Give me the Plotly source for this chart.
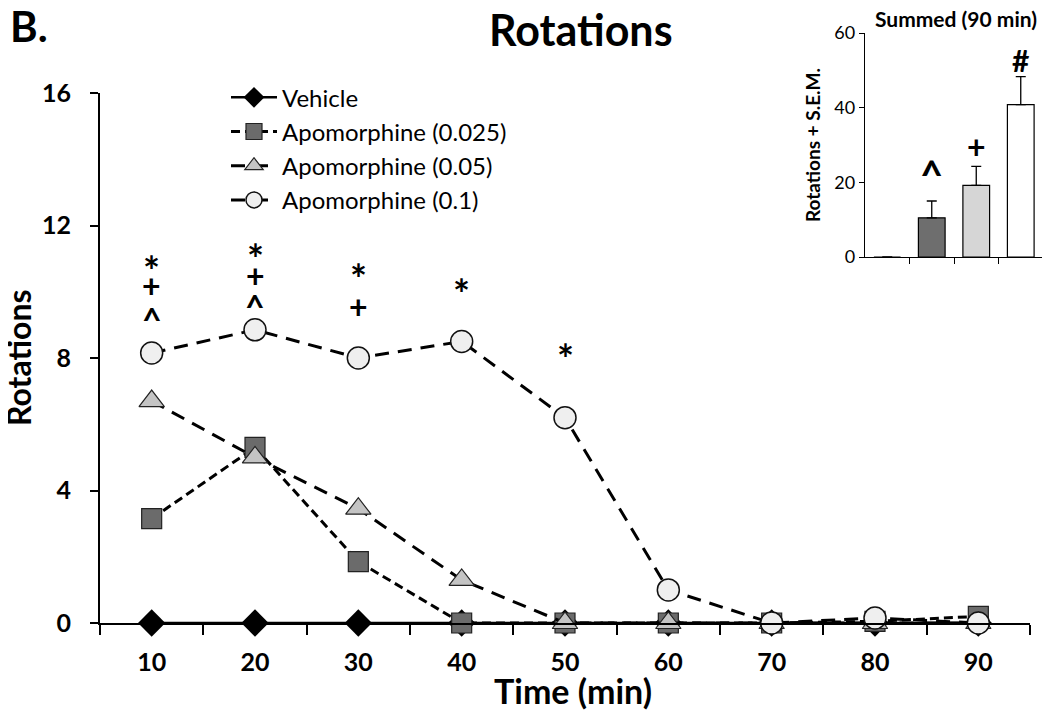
import plotly.graph_objects as go

time_min = [10, 20, 30, 40, 50, 60, 70, 80, 90]
vehicle = [0, 0, 0, 0, 0, 0, 0, 0, 0]
apo_0025 = [3.15, 5.3, 1.85, 0, 0, 0, 0, 0.05, 0.2]
apo_005 = [6.7, 5.0, 3.45, 1.3, 0, 0, 0, 0, 0]
apo_01 = [8.15, 8.85, 8.0, 8.5, 6.2, 1.0, 0, 0.15, 0]
y_ticks = [0, 4, 8, 12, 16]

# significance markers: (time, y-position in rotations, symbol)
sig_x = [10, 10, 10, 20, 20, 20, 30, 30, 40, 50]
sig_y = [10.9, 10.2, 9.4, 11.25, 10.5, 9.8, 10.65, 9.55, 10.2, 8.25]
sig_txt = ["*", "+", "^", "*", "+", "^", "*", "+", "*", "*"]

inset_groups = ["Vehicle", "Apo 0.025", "Apo 0.05", "Apo 0.1"]
inset_vals = [0, 10.5, 19.2, 40.8]
inset_sem = [0, 4.5, 5.1, 7.5]
inset_sig = ["", "^", "+", "#"]
inset_sig_y = [0, 24.0, 29.5, 53.3]

FONT = "Lato"
SYM_SIZE = {"*": 40, "+": 32, "^": 34, "#": 30}
SYM_SHIFT = {"*": -9, "+": 0, "^": -8, "#": -2}

# page geometry (browser body margin offsets the figure by 8px)
OFF = 8
W, H = 1050 - OFF, 710 - OFF
L, R, T, B = 92, 7, 25, 87
PW, PH = W - L - R, H - T - B


def px(xs):
    return (xs - OFF - L) / PW


def py(ys):
    return 1 - (ys - OFF - T) / PH


fig = go.Figure()

fig.add_trace(go.Scatter(x=time_min, y=vehicle, name="Vehicle", mode="lines+markers",
                         line=dict(color="black", width=2.5),
                         marker=dict(symbol="diamond", size=21, color="black"),
                         cliponaxis=False))
fig.add_trace(go.Scatter(x=time_min, y=apo_0025, name="Apomorphine (0.025)", mode="lines+markers",
                         line=dict(color="black", width=3, dash="9px,5px"),
                         marker=dict(symbol="square", size=20, color="#6b6b6b",
                                     line=dict(color="#222", width=1.2)),
                         cliponaxis=False))
fig.add_trace(go.Scatter(x=time_min, y=apo_005, name="Apomorphine (0.05)", mode="lines+markers",
                         line=dict(color="black", width=3, dash="14px,9px"),
                         marker=dict(symbol="triangle-up", size=22, color="#c4c4c4",
                                     line=dict(color="#222", width=1.2)),
                         cliponaxis=False))
fig.add_trace(go.Scatter(x=time_min, y=apo_01, name="Apomorphine (0.1)", mode="lines+markers",
                         line=dict(color="black", width=3, dash="14px,9px"),
                         marker=dict(symbol="circle", size=22, color="#efefef",
                                     line=dict(color="#111", width=1.5)),
                         cliponaxis=False))

for sx, sy, st in zip(sig_x, sig_y, sig_txt):
    fig.add_annotation(x=sx, y=sy, xref="x", yref="y", text=f"<b>{st}</b>", showarrow=False,
                       yshift=SYM_SHIFT[st],
                       font=dict(family=FONT, size=SYM_SIZE[st], color="black"))

# inset bars
fig.add_trace(go.Bar(x=[0, 1, 2, 3], y=inset_vals, xaxis="x2", yaxis="y2", width=0.6,
                     marker=dict(color=["#ffffff", "#6e6e6e", "#d6d6d6", "#ffffff"],
                                 line=dict(color="black", width=1.2)),
                     error_y=dict(type="data", array=inset_sem, arrayminus=[0, 0, 0, 0],
                                  symmetric=False, color="black", thickness=1.3, width=5),
                     showlegend=False, hoverinfo="skip"))
for i, s in enumerate(inset_sig):
    if s:
        fig.add_annotation(x=i, y=inset_sig_y[i], xref="x2", yref="y2",
                           text=f"<b>{s}</b>", showarrow=False, yshift=SYM_SHIFT[s],
                           font=dict(family=FONT, size=SYM_SIZE[s] if s != "^" else 40, color="black"))

fig.update_layout(
    width=W, height=H,
    margin=dict(l=L, r=R, t=T, b=B, autoexpand=False),
    paper_bgcolor="white", plot_bgcolor="white",
    font=dict(family=FONT, color="black"),
    showlegend=True,
    legend=dict(x=px(226), y=py(75.2), xanchor="left", yanchor="top",
                font=dict(family=FONT, size=24, color="black"), itemwidth=46,
                bgcolor="rgba(0,0,0,0)", tracegroupgap=0),
    xaxis=dict(domain=[0, px(1030)], range=[5, 95], tickmode="array",
               tickvals=time_min, ticktext=[str(t) for t in time_min],
               ticks="outside", ticklen=16, tickcolor="rgba(0,0,0,0)",
               showgrid=False, zeroline=False, automargin=False,
               showline=True, linecolor="black", linewidth=2,
               tickfont=dict(family=FONT, size=25, color="black", weight="bold"),
               minor=dict(tick0=5, dtick=10, ticks="outside", ticklen=10, tickwidth=2,
                          tickcolor="black", showgrid=False)),
    yaxis=dict(domain=[0, py(93)], range=[0, 16], tickmode="array", tickvals=y_ticks,
               ticktext=[f"{v}\u2002\u200a" for v in y_ticks],
               ticks="outside", ticklen=8, tickwidth=2, tickcolor="black", automargin=False,
               showgrid=False, zeroline=False, showline=True, linecolor="black", linewidth=2,
               tickfont=dict(family=FONT, size=25, color="black", weight="bold")),
    xaxis2=dict(domain=[px(865), 1.0], anchor="y2", range=[-0.5, 3.5], tickmode="array",
                tickvals=[0.5, 1.5, 2.5, 3.5], ticktext=["", "", "", ""], automargin=False,
                ticks="outside", ticklen=6, tickwidth=1.3, tickcolor="black",
                showgrid=False, zeroline=False, showline=True, linecolor="black", linewidth=1.3),
    yaxis2=dict(domain=[py(257), 1.0], anchor="x2", range=[0, 60], tickvals=[0, 20, 40, 60],
                ticks="outside", ticklen=5, tickwidth=1.3, tickcolor="black", automargin=False,
                showgrid=False, zeroline=False, showline=True, linecolor="black", linewidth=1.3,
                tickfont=dict(family=FONT, size=18, color="black"),
                title=dict(text="<b>Rotations + S.E.M.</b>", font=dict(family=FONT, size=19), standoff=8)),
)

fig.add_annotation(x=px(8), y=py(26), xref="paper", yref="paper", xanchor="left", yanchor="middle",
                   text="<b>B.</b>", showarrow=False,
                   font=dict(family=FONT, size=42, color="black"))
fig.add_annotation(x=px(581), y=py(29), xref="paper", yref="paper", xanchor="center", yanchor="middle",
                   text="<b>Rotations</b>", showarrow=False,
                   font=dict(family=FONT, size=43, color="black"))
fig.add_annotation(x=px(956), y=py(19), xref="paper", yref="paper", xanchor="center", yanchor="middle",
                   text="<b>Summed (90 min)</b>", showarrow=False,
                   font=dict(family=FONT, size=21, color="black"))
fig.add_annotation(x=px(18), y=py(358), xref="paper", yref="paper", xanchor="center", yanchor="middle",
                   text="<b>Rotations</b>", textangle=-90, showarrow=False,
                   font=dict(family=FONT, size=32, color="black"))
fig.add_annotation(x=px(573), y=py(690), xref="paper", yref="paper", xanchor="center", yanchor="middle",
                   text="<b>Time (min)</b>", showarrow=False,
                   font=dict(family=FONT, size=34, color="black"))

fig.write_html("out.html")
